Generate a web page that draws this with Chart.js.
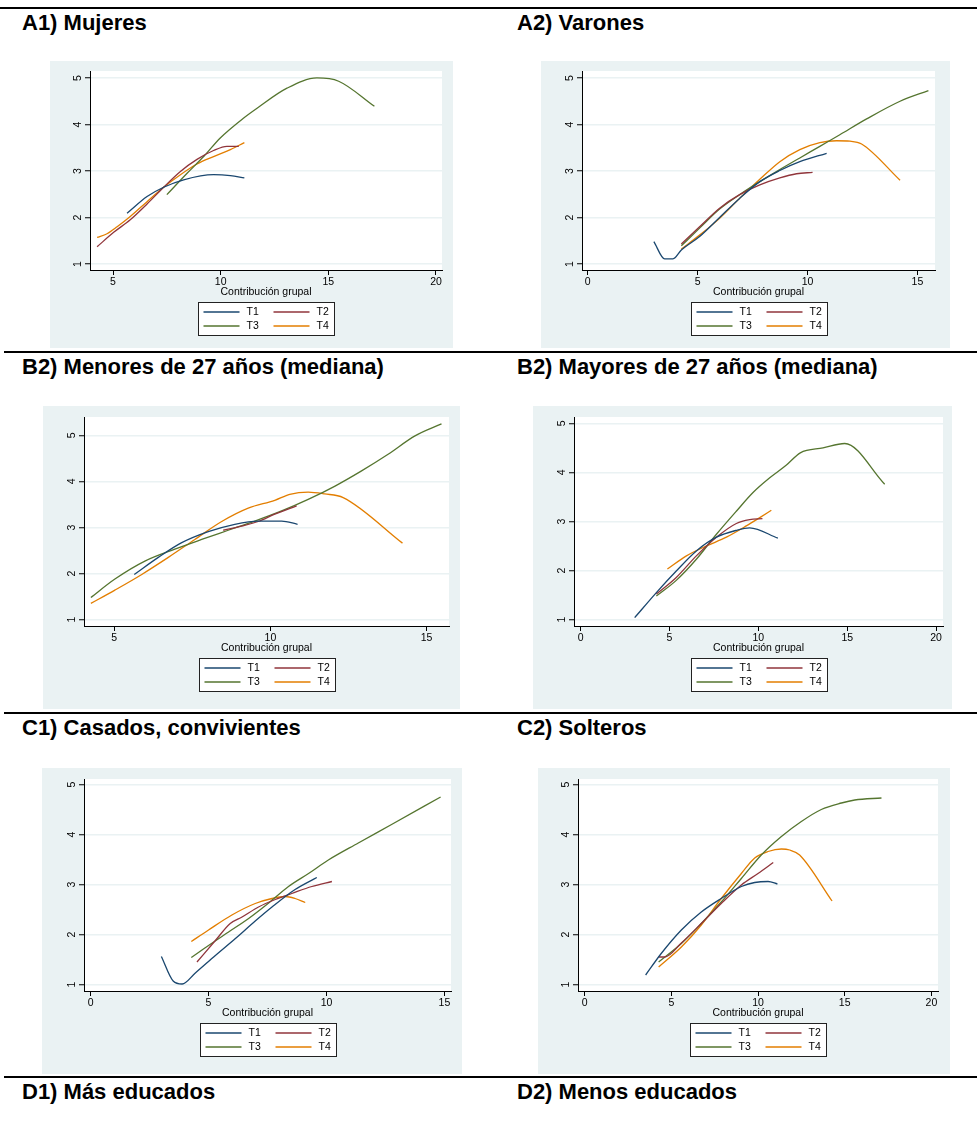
<!DOCTYPE html>
<html>
<head>
<meta charset="utf-8">
<script src="https://cdn.jsdelivr.net/npm/chart.js@4.4.0/dist/chart.umd.min.js"></script>
<style>
    body { margin: 0; width: 977px; height: 1124px; position: relative; overflow: hidden; background: #fff;
           font-family: "Liberation Sans", Arial, sans-serif; }
    .rule { position: absolute; height: 2px; background: #000; }
    .cap { position: absolute; font-weight: bold; font-size: 22px; line-height: 22px; white-space: nowrap; color: #000; }
    .panel { position: absolute; }
</style>
</head>
<body>
<script>
// Series names and colours (Stata s2color)
const seriesLabels = ['T1', 'T2', 'T3', 'T4'];
const seriesColors = ['#1a476f', '#90353b', '#55752f', '#e37e00'];
const xTitle = 'Contribución grupal';
const yTicks = [1, 2, 3, 4, 5];

const captions = [
    'A1) Mujeres', 'A2) Varones',
    'B2) Menores de 27 años (mediana)', 'B2) Mayores de 27 años (mediana)',
    'C1) Casados, convivientes', 'C2) Solteros',
    'D1) Más educados', 'D2) Menos educados'
];

// x tick labels per panel
const xTicksA1 = [5, 10, 15, 20];
const xTicksA2 = [0, 5, 10, 15];
const xTicksB1 = [5, 10, 15];
const xTicksB2 = [0, 5, 10, 15, 20];
const xTicksC1 = [0, 5, 10, 15];
const xTicksC2 = [0, 5, 10, 15, 20];

// A1) Mujeres  [contribución, valor]
const mujeresT1 = [[5.65,2.09],[6.58,2.45],[7.35,2.65],[8.28,2.81],[9.67,2.92],[10.45,2.90],[11.1,2.85]];
const mujeresT2 = [[4.26,1.37],[5.03,1.68],[5.8,1.95],[6.58,2.29],[7.35,2.65],[8.13,2.99],[8.9,3.25],[9.67,3.44],[10.29,3.53],[10.84,3.53]];
const mujeresT3 = [[7.5,2.49],[8.44,2.95],[9.21,3.31],[9.98,3.71],[11.07,4.14],[11.69,4.35],[13.08,4.78],[14.47,5.0],[15.48,4.93],[17.14,4.39]];
const mujeresT4 = [[4.26,1.57],[4.72,1.65],[5.19,1.80],[5.8,2.02],[6.58,2.34],[7.35,2.65],[8.13,2.92],[8.9,3.15],[9.67,3.31],[10.45,3.46],[11.1,3.61]];

// A2) Varones
const varonesT1 = [[3.01,1.48],[3.5,1.11],[3.88,1.11],[4.26,1.30],[5.09,1.59],[6.0,2.0],[6.91,2.41],[7.83,2.77],[8.74,3.01],[9.65,3.2],[10.87,3.38]];
const varonesT2 = [[4.26,1.43],[5.09,1.80],[6.0,2.20],[6.91,2.49],[7.83,2.70],[8.74,2.85],[9.5,2.94],[10.23,2.97]];
const varonesT3 = [[4.26,1.39],[5.09,1.77],[6.0,2.18],[6.91,2.49],[7.83,2.77],[8.74,3.03],[9.65,3.28],[10.56,3.53],[11.47,3.78],[12.69,4.12],[14.21,4.50],[15.5,4.73]];
const varonesT4 = [[4.26,1.32],[5.09,1.62],[6.0,1.98],[6.91,2.41],[7.83,2.82],[8.74,3.20],[9.65,3.46],[10.56,3.61],[11.32,3.65],[11.93,3.64],[12.46,3.58],[14.21,2.80]];

// B1) Menores de 27 años
const menoresT1 = [[5.64,1.98],[6.41,2.35],[7.16,2.67],[8.01,2.91],[8.86,3.07],[9.61,3.14],[10.36,3.14],[10.87,3.07]];
const menoresT2 = [[8.49,2.94],[9.08,3.03],[9.61,3.13],[10.14,3.29],[10.84,3.47]];
const menoresT3 = [[4.25,1.48],[5.02,1.88],[5.98,2.27],[6.94,2.53],[7.8,2.74],[8.65,2.94],[9.5,3.14],[10.36,3.36],[11.21,3.61],[12.07,3.90],[12.92,4.23],[13.77,4.59],[14.63,4.99],[15.48,5.25]];
const menoresT4 = [[4.25,1.35],[5.02,1.64],[5.88,1.98],[6.73,2.35],[7.58,2.74],[8.44,3.13],[9.29,3.42],[10.14,3.59],[10.62,3.72],[11.21,3.77],[11.74,3.73],[12.33,3.65],[14.23,2.66]];

// B2) Mayores de 27 años
const mayoresT1 = [[3.04,1.04],[4.26,1.55],[5.38,1.99],[6.51,2.40],[7.64,2.68],[8.76,2.82],[9.51,2.87],[11.1,2.66]];
const mayoresT2 = [[4.26,1.52],[5.38,1.86],[6.51,2.30],[7.64,2.68],[8.76,2.96],[9.51,3.04],[10.23,3.06]];
const mayoresT3 = [[4.26,1.48],[5.38,1.80],[6.51,2.23],[7.64,2.74],[8.76,3.21],[9.7,3.59],[10.64,3.89],[11.58,4.15],[12.36,4.40],[13.64,4.50],[14.86,4.59],[17.11,3.76]];
const mayoresT4 = [[4.88,2.03],[5.95,2.30],[7.07,2.50],[8.2,2.68],[9.32,2.91],[10.08,3.08],[10.73,3.23]];

// C1) Casados, convivientes
const casadosT1 = [[3.0,1.56],[3.5,1.07],[3.88,1.01],[4.44,1.23],[5.29,1.58],[6.14,1.92],[6.98,2.27],[7.69,2.55],[8.67,2.90],[9.59,3.14]];
const casadosT2 = [[4.51,1.45],[5.29,1.88],[5.92,2.22],[6.42,2.35],[7.12,2.55],[7.83,2.70],[8.53,2.82],[9.38,2.96],[10.23,3.06]];
const casadosT3 = [[4.27,1.54],[5.0,1.78],[5.85,2.05],[6.7,2.32],[7.55,2.63],[8.39,2.96],[9.24,3.22],[10.08,3.49],[11.35,3.83],[12.76,4.20],[14.84,4.75]];
const casadosT4 = [[4.27,1.86],[5.0,2.09],[5.99,2.39],[6.98,2.62],[7.69,2.72],[8.25,2.76],[8.67,2.72],[9.1,2.64]];

// C2) Solteros
const solterosT1 = [[3.52,1.19],[4.42,1.62],[5.58,2.09],[6.73,2.45],[7.88,2.72],[9.04,2.96],[9.81,3.04],[10.58,3.06],[11.12,3.01]];
const solterosT2 = [[4.27,1.55],[4.62,1.55],[5.58,1.83],[6.73,2.22],[7.88,2.62],[9.04,2.99],[10.0,3.22],[10.88,3.44]];
const solterosT3 = [[4.27,1.45],[5.58,1.82],[6.73,2.22],[7.88,2.65],[9.04,3.12],[10.19,3.59],[11.35,3.96],[12.5,4.26],[13.65,4.50],[14.81,4.63],[15.58,4.69],[17.12,4.73]];
const solterosT4 = [[4.27,1.35],[5.58,1.75],[6.73,2.19],[7.88,2.72],[9.04,3.22],[9.81,3.53],[10.58,3.66],[11.35,3.71],[11.83,3.69],[12.4,3.59],[14.27,2.67]];

// Page layout: panel boxes and plot regions (page pixels) plus axis ranges
const panels = [
    { series: [mujeresT1, mujeresT2, mujeresT3, mujeresT4], xTicks: xTicksA1, xRange: [3.93, 20.28], yRange: [0.87, 5.15],
      box: { x: 50, y: 61, w: 403, h: 287 }, plot: { l: 90, t: 71, r: 442, b: 270 } },
    { series: [varonesT1, varonesT2, varonesT3, varonesT4], xTicks: xTicksA2, xRange: [-0.26, 15.8], yRange: [0.87, 5.15],
      box: { x: 541, y: 61, w: 409, h: 287 }, plot: { l: 582, t: 71, r: 935, b: 270 } },
    { series: [menoresT1, menoresT2, menoresT3, menoresT4], xTicks: xTicksB1, xRange: [4.03, 15.72], yRange: [0.86, 5.40],
      box: { x: 43, y: 406, w: 417, h: 303 }, plot: { l: 84, t: 417, r: 449, b: 626 } },
    { series: [mayoresT1, mayoresT2, mayoresT3, mayoresT4], xTicks: xTicksB2, xRange: [-0.375, 20.39], yRange: [0.87, 5.13],
      box: { x: 533, y: 406, w: 419, h: 303 }, plot: { l: 574, t: 417, r: 943, b: 626 } },
    { series: [casadosT1, casadosT2, casadosT3, casadosT4], xTicks: xTicksC1, xRange: [-0.28, 15.28], yRange: [0.87, 5.11],
      box: { x: 42, y: 768, w: 420, h: 306 }, plot: { l: 84, t: 779, r: 451, b: 991 } },
    { series: [solterosT1, solterosT2, solterosT3, solterosT4], xTicks: xTicksC2, xRange: [-0.38, 20.38], yRange: [0.87, 5.11],
      box: { x: 538, y: 768, w: 412, h: 306 }, plot: { l: 578, t: 779, r: 938, b: 991 } }
];

const rules = [{ y: 7, x: 0 }, { y: 351, x: 4 }, { y: 712, x: 4 }, { y: 1076, x: 4 }];
const capRows = [12, 356, 717, 1081];
const capCols = [22, 517];

const FONT = '"Liberation Sans", Arial, Helvetica, sans-serif';
const BG = '#eaf2f3';
const X_AXIS_H = 30;

// rules and captions
rules.forEach(r => {
    const d = document.createElement('div');
    d.className = 'rule';
    d.style.top = r.y + 'px';
    d.style.left = r.x + 'px';
    d.style.width = (977 - r.x) + 'px';
    document.body.appendChild(d);
});
captions.forEach((text, i) => {
    const d = document.createElement('div');
    d.className = 'cap';
    d.textContent = text;
    d.style.top = capRows[Math.floor(i / 2)] + 'px';
    d.style.left = capCols[i % 2] + 'px';
    document.body.appendChild(d);
});

// grey panel with white plot region
const panelBg = {
    id: 'panelBg',
    beforeDraw(chart) {
        const { ctx, chartArea: a } = chart;
        ctx.save();
        ctx.fillStyle = BG;
        ctx.fillRect(0, 0, chart.width, chart.height);
        ctx.fillStyle = '#fff';
        ctx.fillRect(a.left, a.top, a.right - a.left, a.bottom - a.top);
        ctx.restore();
    }
};

// Stata-like boxed legend, 2 columns
const boxLegend = {
    id: 'boxLegend',
    afterDraw(chart) {
        const { ctx, chartArea: a } = chart;
        const w = 136, h = 33;
        const left = Math.round((a.left + a.right) / 2 - w / 2) + 0.5;
        const top = Math.round(a.bottom + 32) + 0.5;
        ctx.save();
        ctx.fillStyle = '#fff';
        ctx.fillRect(left, top, w, h);
        ctx.strokeStyle = '#222';
        ctx.lineWidth = 1;
        ctx.strokeRect(left, top, w, h);
        ctx.font = '10.5px ' + FONT;
        ctx.textBaseline = 'middle';
        chart.data.datasets.forEach((ds, i) => {
            const x0 = left + 5 + (i % 2) * 70;
            const y = Math.round(top + 9 + Math.floor(i / 2) * 14);
            ctx.strokeStyle = ds.borderColor;
            ctx.lineWidth = 1.3;
            ctx.beginPath();
            ctx.moveTo(x0, y);
            ctx.lineTo(x0 + 36, y);
            ctx.stroke();
            ctx.fillStyle = '#000';
            ctx.fillText(ds.label, x0 + 43, y + 0.5);
        });
        ctx.restore();
    }
};

panels.forEach(p => {
    const wrap = document.createElement('div');
    wrap.className = 'panel';
    wrap.style.left = p.box.x + 'px';
    wrap.style.top = p.box.y + 'px';
    const canvas = document.createElement('canvas');
    canvas.width = p.box.w;
    canvas.height = p.box.h;
    wrap.appendChild(canvas);
    document.body.appendChild(wrap);

    new Chart(canvas.getContext('2d'), {
        type: 'line',
        data: {
            datasets: p.series.map((pts, i) => ({
                label: seriesLabels[i],
                data: pts.map(([x, y]) => ({ x, y })),
                borderColor: seriesColors[i],
                fill: false
            }))
        },
        options: {
            responsive: false,
            animation: false,
            events: [],
            layout: {
                padding: {
                    left: 0,
                    top: p.plot.t - p.box.y,
                    right: p.box.x + p.box.w - p.plot.r,
                    bottom: p.box.y + p.box.h - p.plot.b - X_AXIS_H
                }
            },
            elements: {
                point: { radius: 0 },
                line: { borderWidth: 1.3, cubicInterpolationMode: 'monotone' }
            },
            plugins: { legend: { display: false }, tooltip: { enabled: false } },
            scales: {
                x: {
                    type: 'linear',
                    min: p.xRange[0],
                    max: p.xRange[1],
                    afterBuildTicks: s => { s.ticks = p.xTicks.map(v => ({ value: v })); },
                    afterFit: s => { s.height = X_AXIS_H; s.paddingLeft = 0; s.paddingRight = 0; },
                    border: { display: true, color: '#000', width: 1 },
                    grid: { drawOnChartArea: false, drawTicks: true, tickLength: 5, tickColor: '#000', tickWidth: 1 },
                    ticks: { autoSkip: false, maxRotation: 0, padding: 1, color: '#000', font: { family: FONT, size: 10.5 } },
                    title: { display: true, text: xTitle, color: '#000', font: { family: FONT, size: 10.5 }, padding: { top: 0, bottom: 2 } }
                },
                y: {
                    type: 'linear',
                    min: p.yRange[0],
                    max: p.yRange[1],
                    afterBuildTicks: s => { s.ticks = yTicks.map(v => ({ value: v })); },
                    afterFit: s => { s.width = p.plot.l - p.box.x; s.paddingTop = 0; s.paddingBottom = 0; },
                    border: { display: true, color: '#000', width: 1 },
                    grid: { color: BG, lineWidth: 1.5, tickLength: 5, tickColor: '#000', tickWidth: 1 },
                    ticks: { autoSkip: false, minRotation: 90, maxRotation: 90, crossAlign: 'center', padding: 4,
                             color: '#000', font: { family: FONT, size: 10.5 } }
                }
            }
        },
        plugins: [panelBg, boxLegend]
    });
});
</script>
</body>
</html>
